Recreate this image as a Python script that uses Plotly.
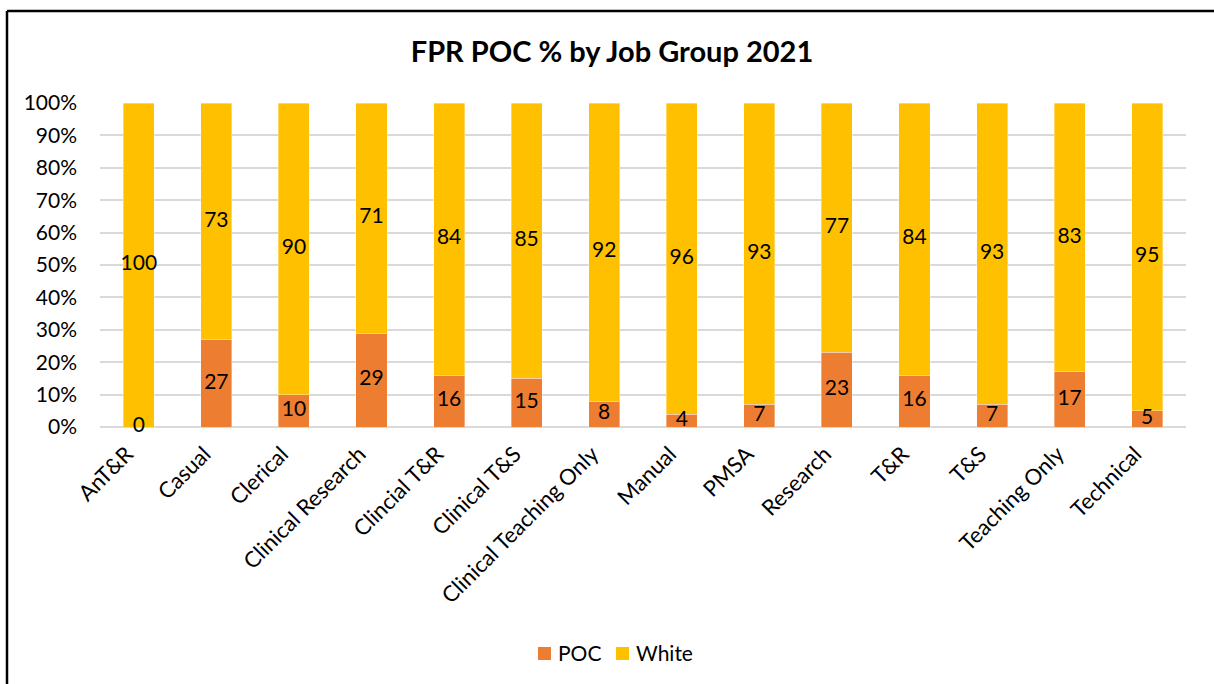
import plotly.graph_objects as go

# Job groups and percentage split (rounded to whole percent)
job_groups = ["AnT&R", "Casual", "Clerical", "Clinical Research", "Clincial T&R",
              "Clinical T&S", "Clinical Teaching Only", "Manual", "PMSA", "Research",
              "T&R", "T&S", "Teaching Only", "Technical"]
poc_pct = [0, 27, 10, 29, 16, 15, 8, 4, 7, 23, 16, 7, 17, 5]
white_pct = [100, 73, 90, 71, 84, 85, 92, 96, 93, 77, 84, 93, 83, 95]
y_ticks = [0, 10, 20, 30, 40, 50, 60, 70, 80, 90, 100]
y_tick_text = [f"{v}%" for v in y_ticks]
series_names = ["POC", "White"]

ORANGE = "#ED7D31"
YELLOW = "#FFC000"
FONT = "Lato"

# plot area geometry in pixels
W, H = 1214, 684
L, R, T, B = 100, 28, 103, 257
pw, ph = W - L - R, H - T - B


def px_x(x):
    return (x - L) / pw


def px_y(y):
    return (H - B - y) / ph


fig = go.Figure()
fig.add_trace(go.Bar(x=job_groups, y=poc_pct, name=series_names[0], marker_color=ORANGE,
                     marker_line=dict(color="rgba(255,255,255,0.6)", width=0.6),
                     width=0.4, hoverinfo="y", showlegend=False))
fig.add_trace(go.Bar(x=job_groups, y=white_pct, name=series_names[1], marker_color=YELLOW,
                     marker_line=dict(color="rgba(255,255,255,0.6)", width=0.6),
                     width=0.4, hoverinfo="y", showlegend=False))

# value labels centred in each segment
poc_mid = [p / 2 for p in poc_pct]
white_mid = [p + w / 2 for p, w in zip(poc_pct, white_pct)]
label_font = dict(family=FONT, size=21, color="#000000")
fig.add_trace(go.Scatter(x=job_groups, y=poc_mid, mode="text",
                         text=[str(v) for v in poc_pct], textfont=label_font,
                         showlegend=False, hoverinfo="skip", cliponaxis=False))
fig.add_trace(go.Scatter(x=job_groups, y=white_mid, mode="text",
                         text=[str(v) for v in white_pct], textfont=label_font,
                         showlegend=False, hoverinfo="skip", cliponaxis=False))

# outer chart frame (left and top edges)
fig.add_shape(type="line", xref="paper", yref="paper",
              x0=px_x(7), x1=px_x(7), y0=px_y(700), y1=px_y(11),
              line=dict(color="#000000", width=2.5))
fig.add_shape(type="line", xref="paper", yref="paper",
              x0=px_x(7), x1=px_x(1220), y0=px_y(11), y1=px_y(11),
              line=dict(color="#000000", width=2.5))

# legend: colour swatch followed by series name
legend_items = [(series_names[0], ORANGE, 538), (series_names[1], YELLOW, 616)]
for name, color, x_left in legend_items:
    fig.add_shape(type="rect", xref="paper", yref="paper",
                  x0=px_x(x_left), x1=px_x(x_left + 13),
                  y0=px_y(660), y1=px_y(647),
                  fillcolor=color, line=dict(width=0))
    fig.add_annotation(xref="paper", yref="paper", x=px_x(x_left + 18), y=px_y(652.5),
                       xanchor="left", yanchor="middle", text=name, showarrow=False,
                       font=dict(family=FONT, size=21, color="#000000"))

fig.update_layout(
    width=W, height=H,
    margin=dict(l=L, r=R, t=T, b=B),
    barmode="stack",
    paper_bgcolor="#FFFFFF", plot_bgcolor="#FFFFFF",
    font=dict(family=FONT, size=21, color="#000000"),
    title=dict(text="<b>FPR POC % by Job Group 2021</b>", xref="container",
               x=612 / W, xanchor="center",
               y=1 - 52 / H, yanchor="middle",
               font=dict(family=FONT, size=29, color="#000000")),
    showlegend=False,
    xaxis=dict(range=[-0.5, len(job_groups) - 0.5], tickangle=-45,
               showgrid=False, showline=False, ticks="",
               tickfont=dict(family=FONT, size=22, color="#000000"),
               ticklabelstandoff=9, ticklabelshift=-12, fixedrange=True),
    yaxis=dict(range=[0, 100], tickvals=y_ticks, ticktext=y_tick_text,
               showgrid=True, gridcolor="#D9D9D9", gridwidth=1.5,
               zeroline=True, zerolinecolor="#D9D9D9", zerolinewidth=1.5,
               showline=False, ticks="", ticklabelstandoff=22,
               tickfont=dict(family=FONT, size=21, color="#000000"), fixedrange=True),
)

fig.write_html("out.html")
